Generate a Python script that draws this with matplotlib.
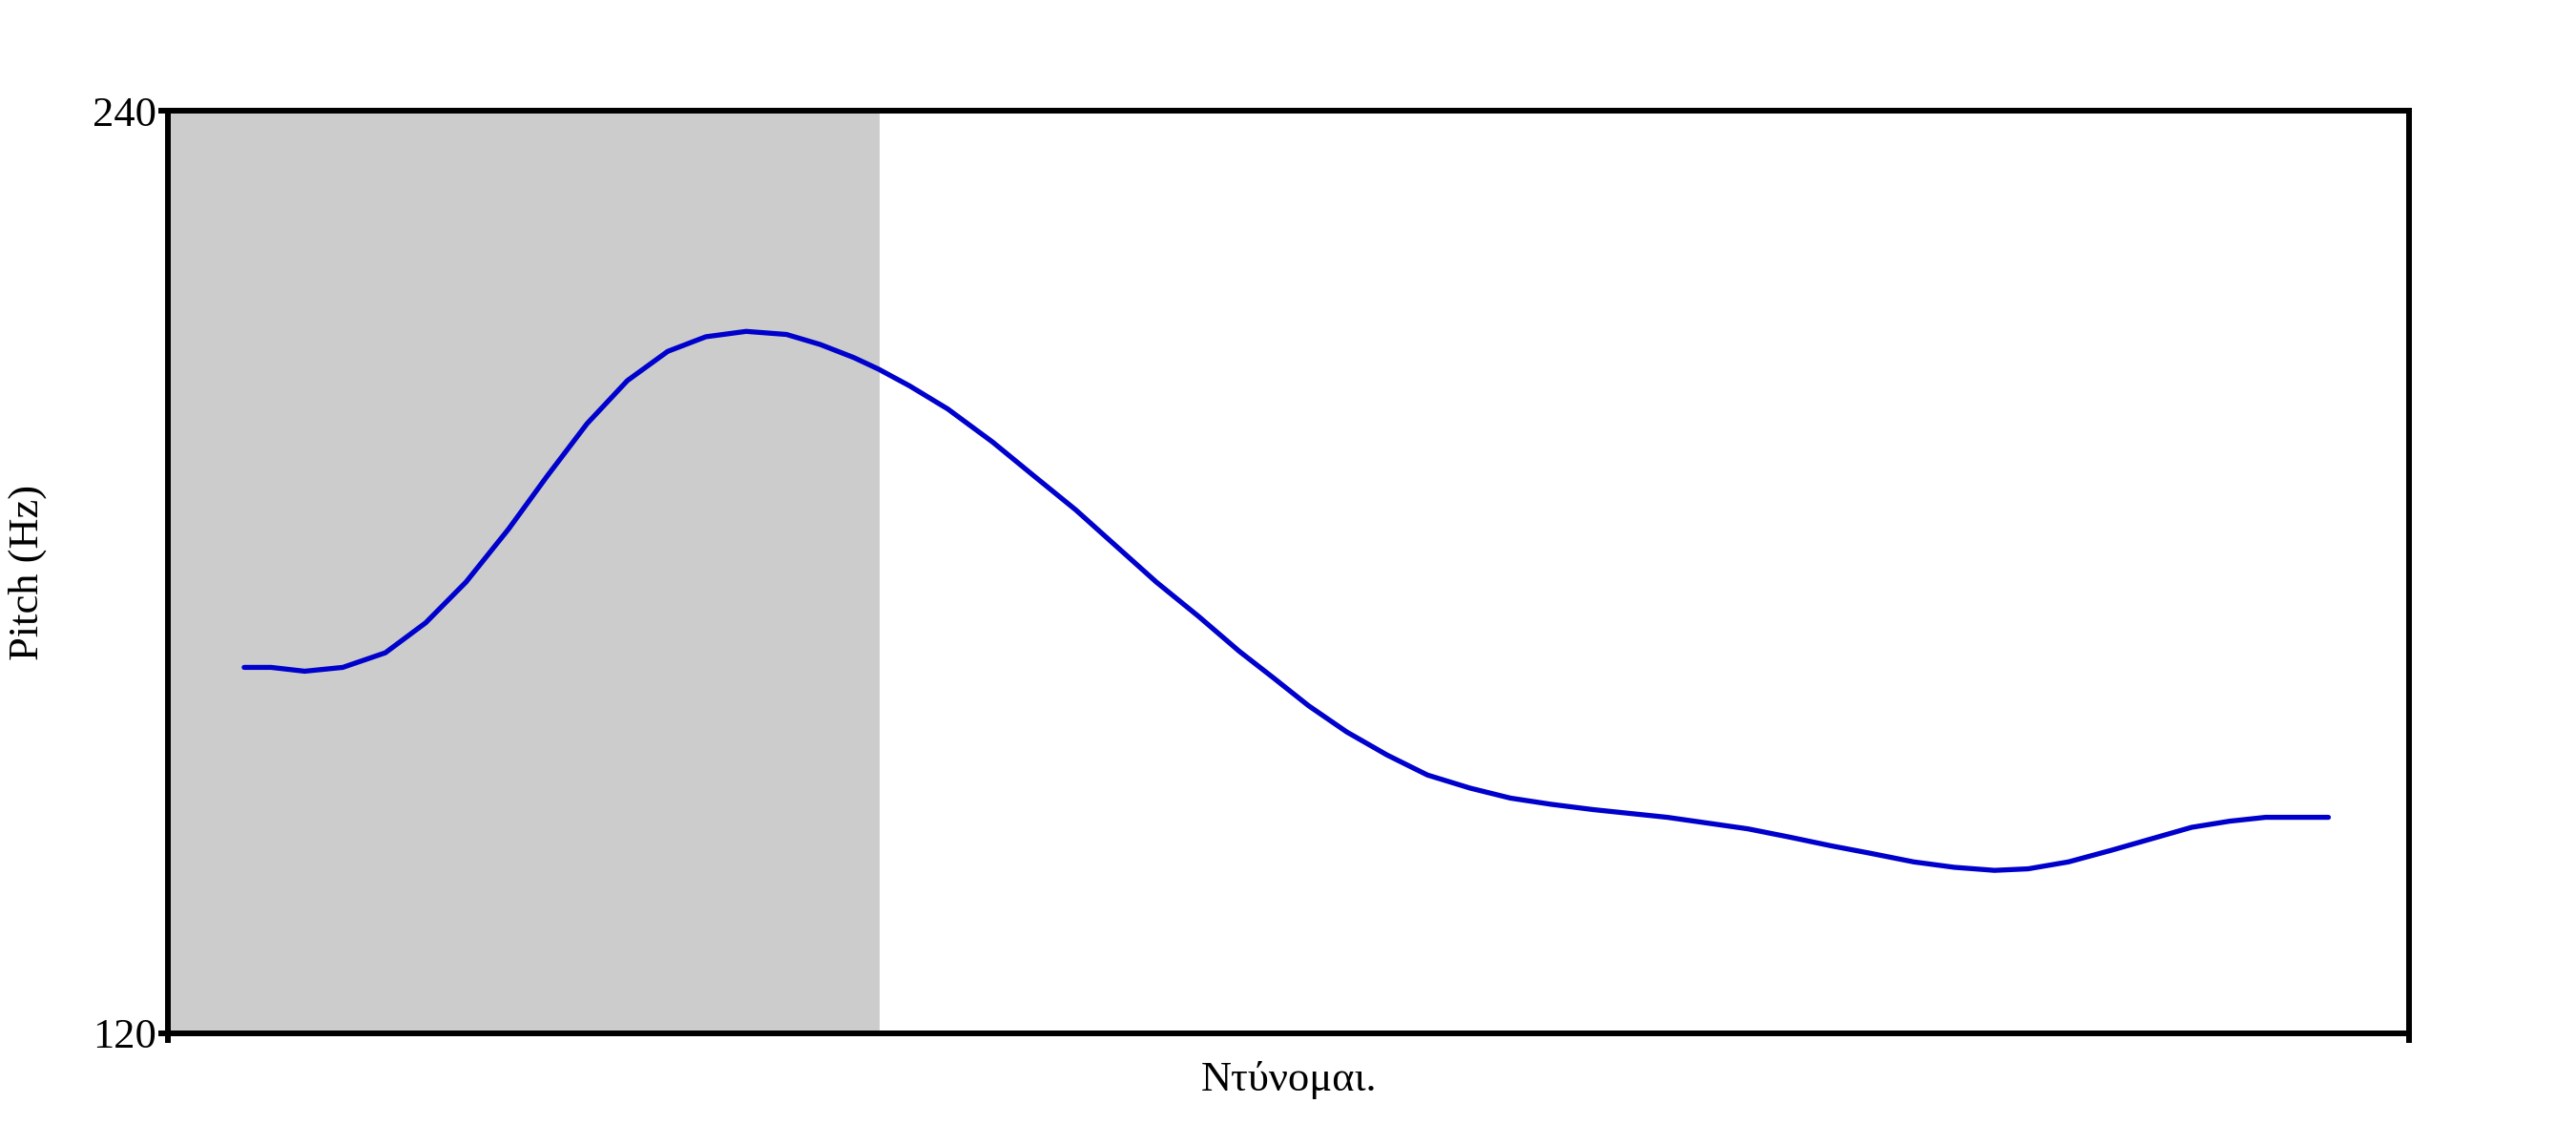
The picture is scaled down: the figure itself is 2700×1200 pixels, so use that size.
import matplotlib
matplotlib.use("Agg")
import matplotlib.pyplot as plt

# Data (time as fraction of utterance, pitch in Hz)
time = [0.034, 0.046, 0.061, 0.078, 0.097, 0.115, 0.133, 0.152, 0.169, 0.187,
        0.205, 0.223, 0.240, 0.258, 0.276, 0.291, 0.306, 0.317, 0.331, 0.348,
        0.368, 0.386, 0.405, 0.423, 0.441, 0.460, 0.478, 0.493, 0.509, 0.526,
        0.544, 0.562, 0.581, 0.599, 0.617, 0.636, 0.669, 0.705, 0.724, 0.742,
        0.760, 0.779, 0.797, 0.815, 0.830, 0.848, 0.867, 0.885, 0.903, 0.920,
        0.936, 0.964]
pitch = [167.6, 167.6, 167.1, 167.6, 169.5, 173.4, 178.7, 185.6, 192.4, 199.3,
         204.9, 208.7, 210.6, 211.3, 210.9, 209.6, 207.9, 206.4, 204.2, 201.2,
         196.9, 192.6, 188.1, 183.4, 178.7, 174.2, 169.7, 166.3, 162.6, 159.2,
         156.2, 153.6, 151.9, 150.6, 149.8, 149.1, 148.1, 146.6, 145.5, 144.4,
         143.4, 142.3, 141.6, 141.2, 141.4, 142.3, 143.8, 145.3, 146.8, 147.6,
         148.1, 148.1]
shade_span = (0.0, 0.3176)
y_ticks = [120, 240]
x_label = "Ντύνομαι."
y_label = "Pitch (Hz)"

plt.rcParams['font.family'] = ['Liberation Serif', 'DejaVu Serif']

fig = plt.figure(figsize=(27, 12), dpi=100)
ax = fig.add_axes([0.0652, 0.0975, 0.87, 0.8058])

ax.axvspan(shade_span[0], shade_span[1], color='#cccccc', lw=0, zorder=0)
ax.plot(time, pitch, color='#0000cd', lw=3.8, zorder=3,
        solid_joinstyle='round', solid_capstyle='round')

ax.set_xlim(0, 1)
ax.set_ylim(120, 240)
ax.set_yticks(y_ticks)
ax.set_yticklabels([str(v) for v in y_ticks])
ax.set_xticks([0, 1])
ax.set_xticklabels(['', ''])

for s in ax.spines.values():
    s.set_linewidth(4.3)
    s.set_color('black')

ax.tick_params(axis='both', direction='out', length=7, width=4.3,
               labelsize=32, pad=2, color='black')

ax.set_xlabel(x_label, fontsize=32, labelpad=12)
ax.set_ylabel(y_label, fontsize=32, labelpad=34)

fig.savefig("out.png", dpi=100, facecolor='white')
